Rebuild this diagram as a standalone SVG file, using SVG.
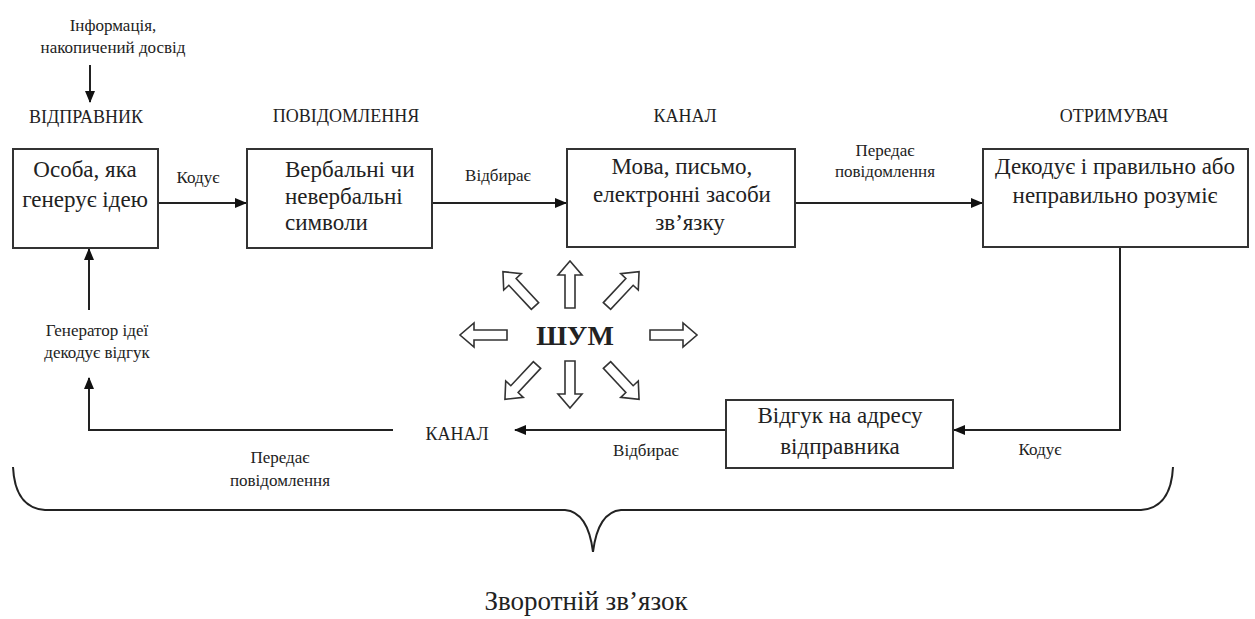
<svg xmlns="http://www.w3.org/2000/svg" width="1255" height="619" viewBox="0 0 1255 619" font-family="Liberation Serif, Times New Roman, serif">
<style>
text{fill:#222;}
.lbl{font-size:18px;}
.sm{font-size:17px;}
.bx{font-size:23px;}
.box{fill:#fff;stroke:#333;stroke-width:2;}
.ln{fill:none;stroke:#222;stroke-width:2;}
.na{fill:#fff;stroke:#333;stroke-width:1.6;}
</style>
<defs>
<marker id="ah" markerWidth="12" markerHeight="10" refX="11" refY="5" orient="auto" markerUnits="userSpaceOnUse">
<path d="M0,0 L12,5 L0,10 Z" fill="#111"/>
</marker>
<path id="blk" d="M0,-5 L33,-5 L33,-12 L47,0 L33,12 L33,5 L0,5 Z"/>
</defs>
<rect width="1255" height="619" fill="#fff"/>

<g id="top-labels">
<text class="sm" x="113" y="31" text-anchor="middle">Інформація,</text>
<text class="sm" x="113" y="53" text-anchor="middle">накопичений досвід</text>
<text class="lbl" x="86" y="123" text-anchor="middle">ВІДПРАВНИК</text>
<text class="lbl" x="346" y="122" text-anchor="middle">ПОВІДОМЛЕННЯ</text>
<text class="lbl" x="685" y="122" text-anchor="middle">КАНАЛ</text>
<text class="lbl" x="1114" y="122" text-anchor="middle">ОТРИМУВАЧ</text>
</g>

<g id="connectors">
<line class="ln" x1="90" y1="65" x2="90" y2="102" marker-end="url(#ah)"/>
<line class="ln" x1="158" y1="203" x2="246" y2="203" marker-end="url(#ah)"/>
<line class="ln" x1="432" y1="203" x2="566" y2="203" marker-end="url(#ah)"/>
<line class="ln" x1="795" y1="203" x2="982" y2="203" marker-end="url(#ah)"/>
<polyline class="ln" points="1120,247 1120,430 954,430" marker-end="url(#ah)"/>
<line class="ln" x1="726" y1="430" x2="515" y2="430" marker-end="url(#ah)"/>
<polyline class="ln" points="393,430 89,430 89,378" marker-end="url(#ah)"/>
<line class="ln" x1="89" y1="310" x2="89" y2="249" marker-end="url(#ah)"/>
<text class="sm" x="198" y="183" text-anchor="middle">Кодує</text>
<text class="sm" x="498" y="181" text-anchor="middle">Відбирає</text>
<text class="sm" x="885" y="156" text-anchor="middle">Передає</text>
<text class="sm" x="885" y="177" text-anchor="middle">повідомлення</text>
<text class="sm" x="97" y="336" text-anchor="middle">Генератор ідеї</text>
<text class="sm" x="97" y="358" text-anchor="middle">декодує відгук</text>
<text class="lbl" x="457" y="440" text-anchor="middle">КАНАЛ</text>
<text class="sm" x="646" y="456" text-anchor="middle">Відбирає</text>
<text class="sm" x="1040" y="455" text-anchor="middle">Кодує</text>
<text class="sm" x="280" y="463" text-anchor="middle">Передає</text>
<text class="sm" x="280" y="486" text-anchor="middle">повідомлення</text>
</g>

<g id="sender">
<rect class="box" x="13" y="149" width="145" height="99"/>
<text class="bx" x="85" y="177" text-anchor="middle">Особа, яка</text>
<text class="bx" x="85" y="207" text-anchor="middle">генерує ідею</text>
</g>
<g id="message">
<rect class="box" x="247" y="149" width="185" height="99"/>
<text class="bx" x="285" y="177">Вербальні чи</text>
<text class="bx" x="285" y="204">невербальні</text>
<text class="bx" x="285" y="230">символи</text>
</g>
<g id="channel">
<rect class="box" x="567" y="149" width="228" height="98"/>
<text class="bx" x="682" y="174" text-anchor="middle">Мова, письмо,</text>
<text class="bx" x="682" y="202" text-anchor="middle">електронні засоби</text>
<text class="bx" x="690" y="230" text-anchor="middle">зв’язку</text>
</g>
<g id="receiver">
<rect class="box" x="983" y="149" width="265" height="98"/>
<text class="bx" x="1115" y="174" text-anchor="middle">Декодує і правильно або</text>
<text class="bx" x="1115" y="203" text-anchor="middle">неправильно розуміє</text>
</g>
<g id="feedback">
<rect class="box" x="726" y="400" width="227" height="68"/>
<text class="bx" x="840" y="423" text-anchor="middle">Відгук на адресу</text>
<text class="bx" x="840" y="454" text-anchor="middle">відправника</text>
</g>

<g id="noise">
<text x="575" y="345" text-anchor="middle" font-size="28" font-weight="bold" fill="#111">ШУМ</text>
<use href="#blk" class="na" transform="translate(570,308) rotate(-90)"/>
<use href="#blk" class="na" transform="translate(570,361) rotate(90)"/>
<use href="#blk" class="na" transform="translate(507,335) rotate(180)"/>
<use href="#blk" class="na" transform="translate(650,335)"/>
<use href="#blk" class="na" transform="translate(535,306) rotate(-133)"/>
<use href="#blk" class="na" transform="translate(607,306) rotate(-47)"/>
<use href="#blk" class="na" transform="translate(537,365) rotate(133)"/>
<use href="#blk" class="na" transform="translate(607,365) rotate(47)"/>
</g>

<g id="brace">
<path class="ln" d="M13,467 Q15,508 45,510 L565,510 Q588,512 593,552 Q598,512 621,510 L1141,510 Q1171,508 1173,467"/>
<text x="586" y="610" text-anchor="middle" font-size="27">Зворотній зв’язок</text>
</g>
</svg>
